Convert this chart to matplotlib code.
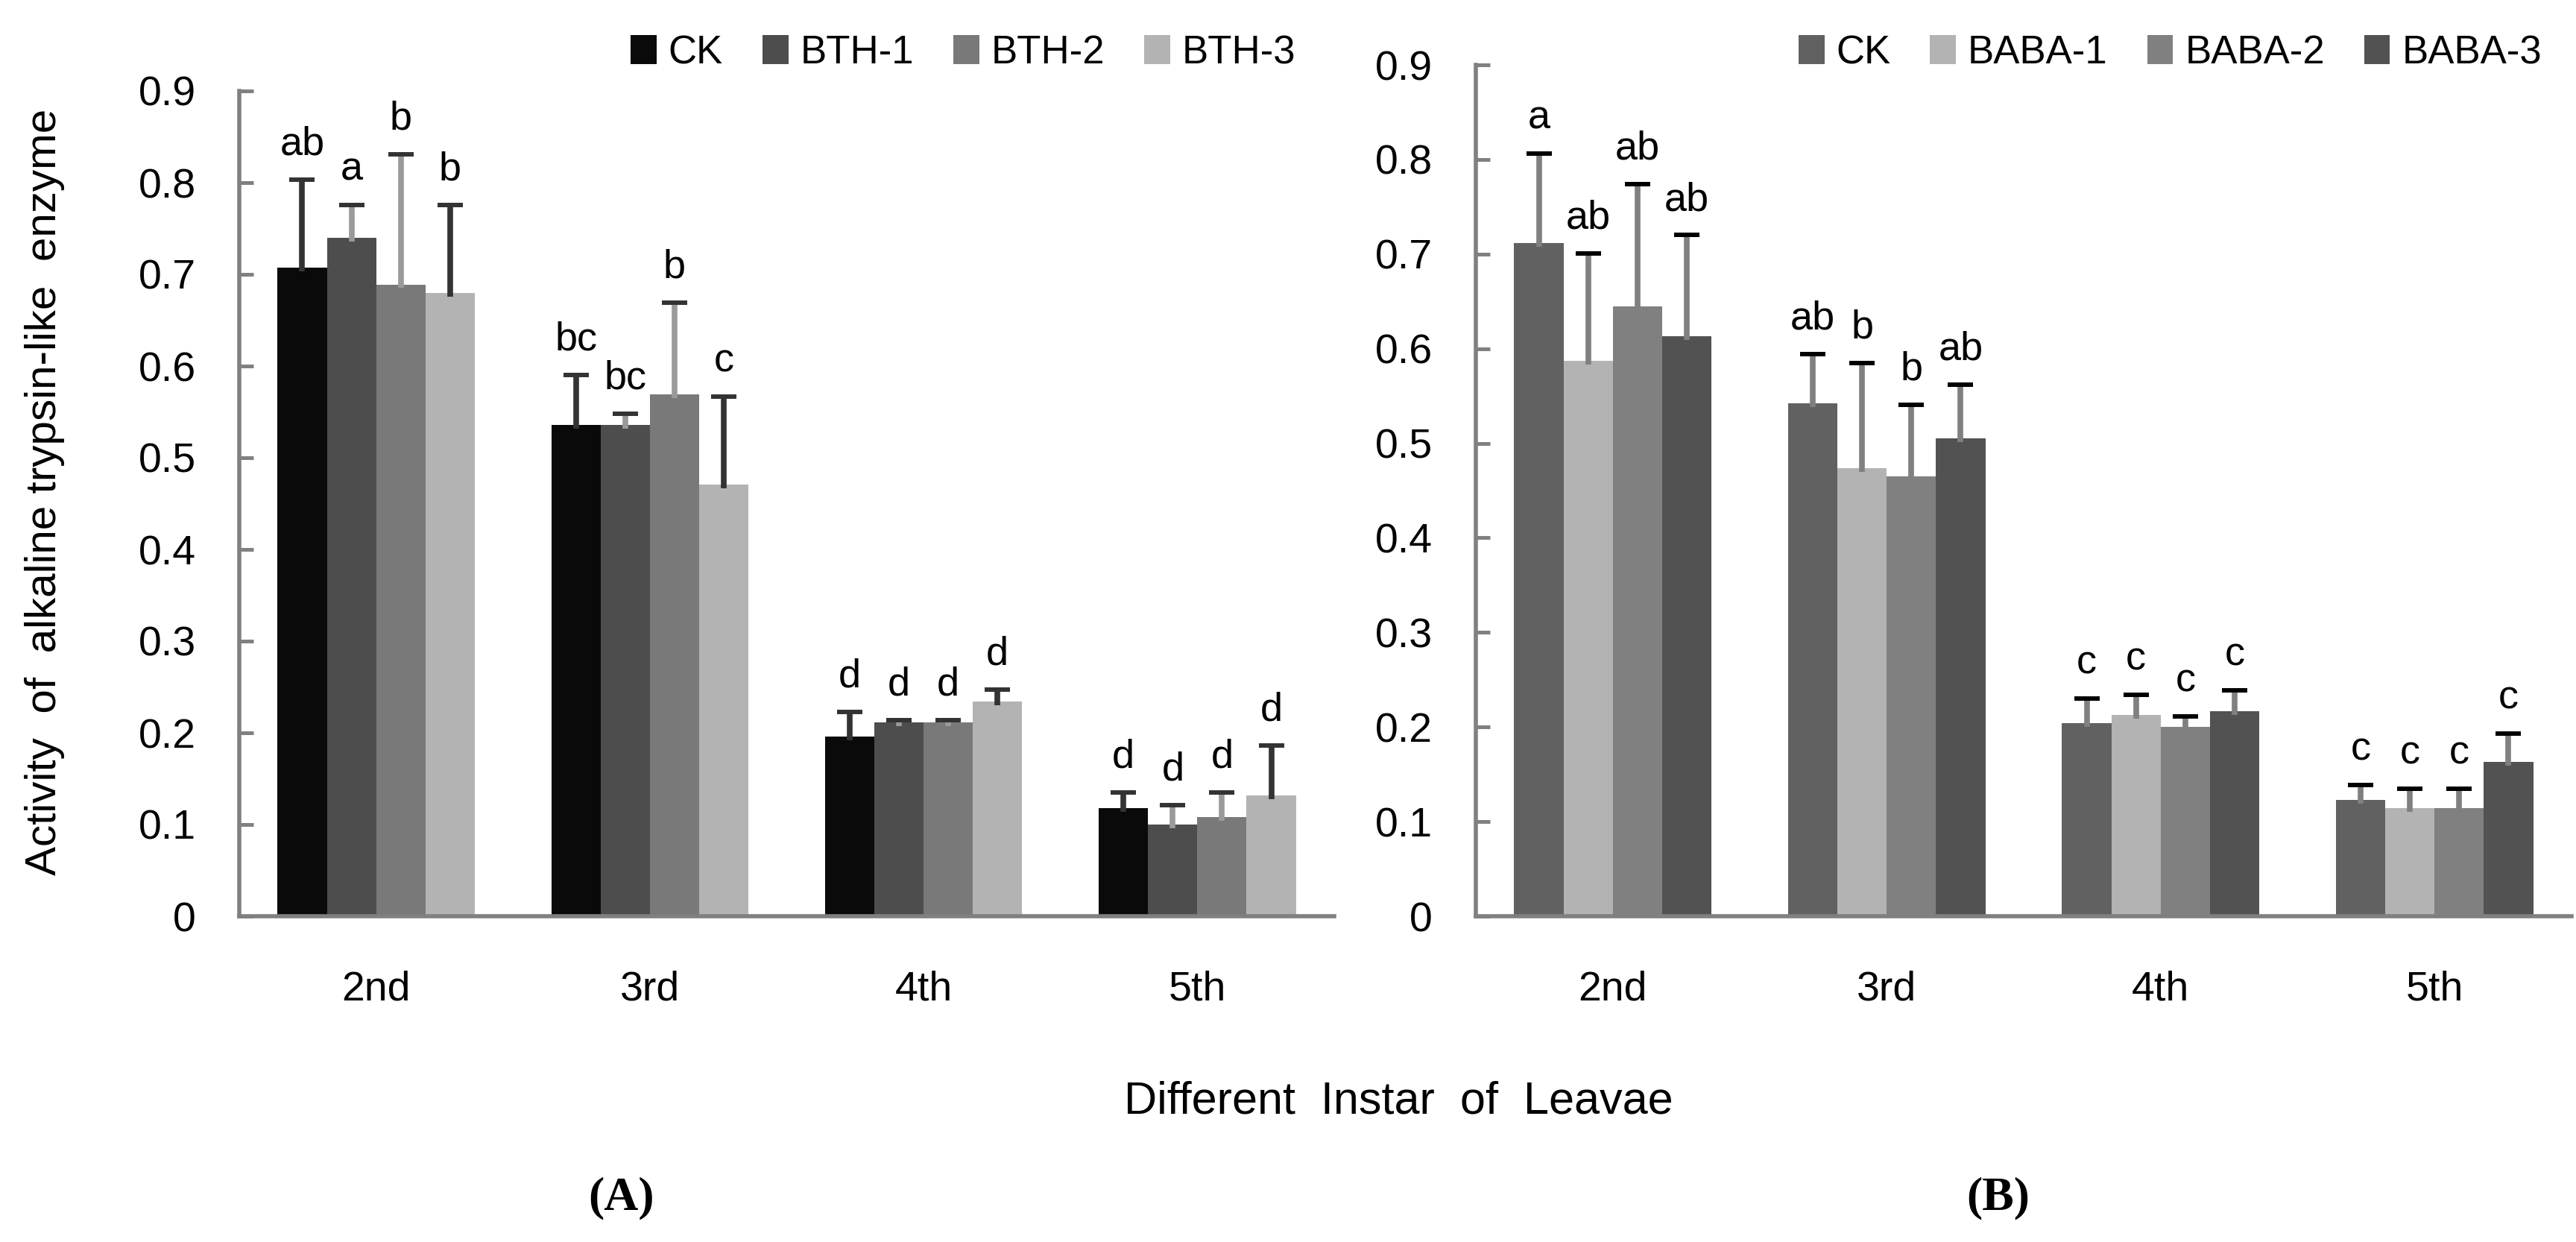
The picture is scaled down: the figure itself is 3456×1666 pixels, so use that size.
import matplotlib
matplotlib.use("Agg")
import matplotlib.pyplot as plt
import numpy as np

plt.rcParams['font.family'] = ['Liberation Sans', 'DejaVu Sans']

# ---------------- data ----------------
instars = ["2nd", "3rd", "4th", "5th"]

bth_series = ["CK", "BTH-1", "BTH-2", "BTH-3"]
bth_ck = [0.707, 0.536, 0.196, 0.118]
bth_1 = [0.740, 0.536, 0.211, 0.100]
bth_2 = [0.689, 0.569, 0.211, 0.108]
bth_3 = [0.680, 0.471, 0.234, 0.132]
bth_ck_err = [0.096, 0.054, 0.027, 0.017]
bth_1_err = [0.036, 0.012, 0.003, 0.021]
bth_2_err = [0.142, 0.100, 0.003, 0.027]
bth_3_err = [0.096, 0.096, 0.013, 0.054]
bth_ck_sig = ["ab", "bc", "d", "d"]
bth_1_sig = ["a", "bc", "d", "d"]
bth_2_sig = ["b", "b", "d", "d"]
bth_3_sig = ["b", "c", "d", "d"]

baba_series = ["CK", "BABA-1", "BABA-2", "BABA-3"]
baba_ck = [0.712, 0.542, 0.204, 0.123]
baba_1 = [0.587, 0.474, 0.213, 0.114]
baba_2 = [0.645, 0.465, 0.200, 0.114]
baba_3 = [0.613, 0.505, 0.217, 0.163]
baba_ck_err = [0.094, 0.052, 0.026, 0.016]
baba_1_err = [0.114, 0.111, 0.021, 0.021]
baba_2_err = [0.129, 0.076, 0.011, 0.021]
baba_3_err = [0.107, 0.057, 0.022, 0.030]
baba_ck_sig = ["a", "ab", "c", "c"]
baba_1_sig = ["ab", "b", "c", "c"]
baba_2_sig = ["ab", "b", "c", "c"]
baba_3_sig = ["ab", "ab", "c", "c"]

yticks = [0, 0.1, 0.2, 0.3, 0.4, 0.5, 0.6, 0.7, 0.8, 0.9]
ytick_labels = ["0", "0.1", "0.2", "0.3", "0.4", "0.5", "0.6", "0.7", "0.8", "0.9"]

# ---------------- figure ----------------
W, H = 3456, 1666
fig = plt.figure(figsize=(W / 100, H / 100), dpi=100)

def fx(px):
    return px / W

def fy(py):
    return 1 - py / H

ax_a = fig.add_axes([fx(321), fy(1229), fx(1790) - fx(321), fy(122) - fy(1229)])
ax_b = fig.add_axes([fx(1980), fy(1229), fx(3450) - fx(1980), fy(87) - fy(1229)])

spine_col = "#808080"
bar_w = 0.18

def draw_panel(ax, names, vals, errs, sigs, colors, line_cols, cap_col, legend_right, legend_y):
    x = np.arange(len(instars))
    handles = []
    for i, (nm, v, e, s, c, lc) in enumerate(zip(names, vals, errs, sigs, colors, line_cols)):
        xi = x + (i - 1.5) * bar_w
        b = ax.bar(xi, v, width=bar_w, color=c, edgecolor='none', label=nm, zorder=2)
        handles.append(b)
        top = np.array(v) + np.array(e)
        ax.vlines(xi, np.array(v) - 0.004, top, colors=lc, linewidth=5.5, zorder=3)
        ax.plot(xi, top, linestyle='none', marker='_', markersize=24.5,
                markeredgewidth=4.3, color=cap_col, zorder=4)
        for xx, tt, lab in zip(xi, top, s):
            ax.annotate(lab, (xx, tt), xytext=(0, 24), textcoords='offset points',
                        ha='center', va='baseline', fontsize=39, color='black', zorder=5)
    ax.set_xlim(-0.5, len(instars) - 0.5)
    ax.set_ylim(0, 0.9)
    ax.set_yticks(yticks)
    ax.set_yticklabels(ytick_labels)
    ax.set_xticks(x)
    ax.set_xticklabels(instars)
    for sp in ["top", "right"]:
        ax.spines[sp].set_visible(False)
    for sp in ["left", "bottom"]:
        ax.spines[sp].set_color(spine_col)
        ax.spines[sp].set_linewidth(4)
    ax.tick_params(axis='y', direction='in', length=14, width=3.6, color=spine_col,
                   labelsize=40, pad=42)
    ax.tick_params(axis='x', length=0, labelsize=40, pad=52)
    ax.legend(handles=handles, ncol=4, loc='center right',
              bbox_to_anchor=(fx(legend_right), fy(legend_y)), bbox_transform=fig.transFigure,
              frameon=False, fontsize=38, handlelength=0.66, handleheight=0.76,
              handletextpad=0.3, columnspacing=1.0, borderpad=0, borderaxespad=0)

draw_panel(ax_a, bth_series,
           [bth_ck, bth_1, bth_2, bth_3],
           [bth_ck_err, bth_1_err, bth_2_err, bth_3_err],
           [bth_ck_sig, bth_1_sig, bth_2_sig, bth_3_sig],
           ["#0a0a0a", "#4d4d4d", "#797979", "#b3b3b3"],
           ["#333333", "#9a9a9a", "#9a9a9a", "#333333"],
           "#333333", 1738, 71)

draw_panel(ax_b, baba_series,
           [baba_ck, baba_1, baba_2, baba_3],
           [baba_ck_err, baba_1_err, baba_2_err, baba_3_err],
           [baba_ck_sig, baba_1_sig, baba_2_sig, baba_3_sig],
           ["#616161", "#b3b3b3", "#808080", "#525252"],
           ["#808080", "#808080", "#808080", "#808080"],
           "#000000", 3410, 71)

fig.text(fx(60), fy(660), "Activity  of  alkaline trypsin-like  enzyme", rotation=90,
         ha='center', va='center', fontsize=42)
fig.text(fx(1876), fy(1478), "Different  Instar  of  Leavae", ha='center', va='center',
         fontsize=44)
fig.text(fx(833), fy(1607), "(A)", ha='center', va='center', fontsize=46,
         family=['Liberation Serif', 'DejaVu Serif'])
fig.text(fx(2681), fy(1607), "(B)", ha='center', va='center', fontsize=46,
         family=['Liberation Serif', 'DejaVu Serif'])

# make panel labels bold-letter with regular parens look: draw all bold
for t in fig.texts[-2:]:
    t.set_fontweight('bold')

fig.savefig("out.png", dpi=100)
